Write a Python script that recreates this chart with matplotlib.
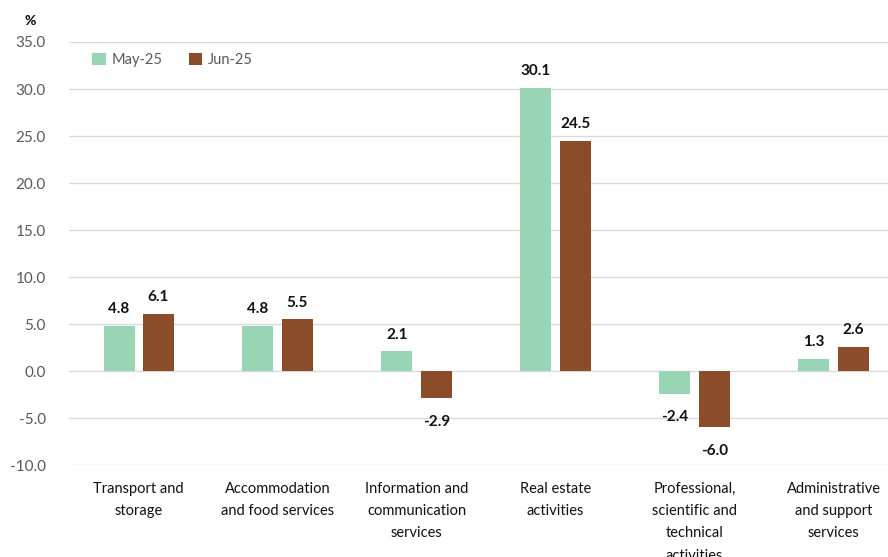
import matplotlib
matplotlib.use("Agg")
import matplotlib.pyplot as plt
import numpy as np

plt.rcParams['font.family'] = ['Lato', 'DejaVu Sans']

categories = [
    "Transport and\nstorage",
    "Accommodation\nand food services",
    "Information and\ncommunication\nservices",
    "Real estate\nactivities",
    "Professional,\nscientific and\ntechnical\nactivities",
    "Administrative\nand support\nservices",
]
may_25 = [4.8, 4.8, 2.1, 30.1, -2.4, 1.3]
jun_25 = [6.1, 5.5, -2.9, 24.5, -6.0, 2.6]
series_names = ["May-25", "Jun-25"]
yticks = np.arange(-10, 36, 5)

MAY_COLOR = "#98D5B4"
JUN_COLOR = "#8B4C2A"
TEXT_GRAY = "#595959"

fig = plt.figure(figsize=(8.88, 5.57), dpi=100)
ax = fig.add_axes([0.078, 0.165, 0.939, 0.7596])

x = np.arange(len(categories))
w = 0.223
off = 0.142
bars_may = ax.bar(x - off, may_25, w, color=MAY_COLOR, label=series_names[0], zorder=3)
bars_jun = ax.bar(x + off, jun_25, w, color=JUN_COLOR, label=series_names[1], zorder=3)

for bars in (bars_may, bars_jun):
    for b in bars:
        v = b.get_height()
        xc = b.get_x() + b.get_width() / 2
        if v >= 0:
            ax.annotate(f"{v:.1f}", (xc, v), xytext=(0, 7), textcoords="offset points",
                        ha="center", va="bottom", fontsize=11, fontweight="bold", color="#111111")
        else:
            ax.annotate(f"{v:.1f}", (xc, v), xytext=(0, -12), textcoords="offset points",
                        ha="center", va="top", fontsize=11, fontweight="bold", color="#111111")

ax.set_xlim(-0.5, len(categories) - 0.5)
ax.set_ylim(-10, 35)
ax.set_yticks(yticks)
ax.set_yticklabels([f"{t:.1f}" for t in yticks], color=TEXT_GRAY, fontsize=11)
ax.set_xticks(x)
ax.set_xticklabels(categories, fontsize=10.5, color="#111111", linespacing=1.75, va="top")
ax.tick_params(axis="both", length=0)
ax.tick_params(axis="x", pad=12)
ax.tick_params(axis="y", pad=17)
ax.grid(axis="y", color="#D9D9D9", linewidth=1, zorder=0)
for s in ax.spines.values():
    s.set_visible(False)

ax.legend(loc="upper left", bbox_to_anchor=(0.012, 1.005), ncol=2, frameon=False,
          fontsize=10.5, handlelength=0.9, handleheight=0.9, columnspacing=1.8,
          handletextpad=0.4, labelcolor=TEXT_GRAY)

fig.text(0.028, 0.962, "%", fontsize=10, fontweight="bold", ha="left", va="center")

fig.savefig("out.png", dpi=100)
